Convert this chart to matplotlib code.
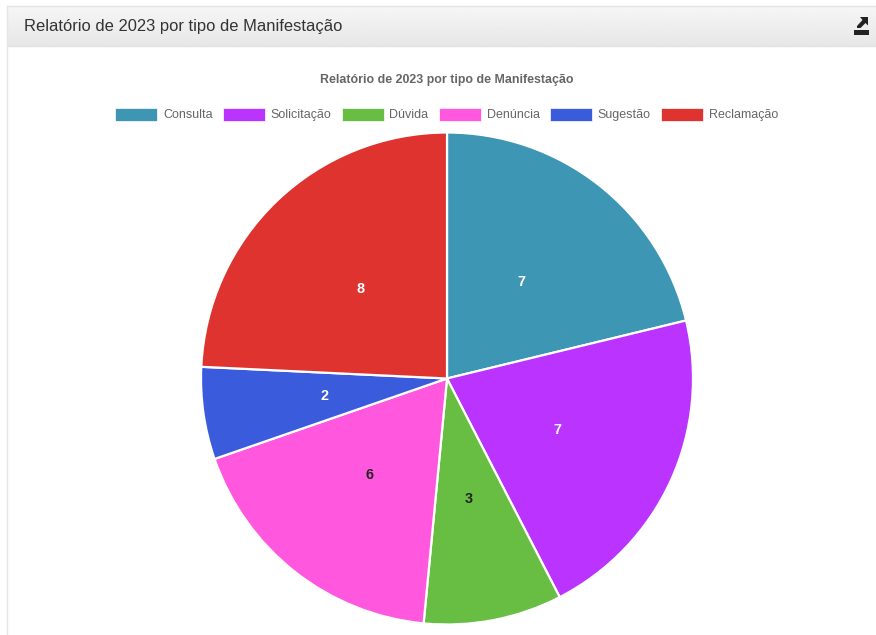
import numpy as np
import matplotlib
matplotlib.use("Agg")
import matplotlib.pyplot as plt
from matplotlib.patches import Rectangle, Polygon

W, H = 876, 635
categories = ["Consulta", "Solicitação", "Dúvida", "Denúncia", "Sugestão", "Reclamação"]
values = [7, 7, 3, 6, 2, 8]
colors = ["#3D96B4", "#BB33FF", "#68BE42", "#FF57DD", "#3A5CDC", "#DF3330"]
label_colors = ["white", "white", "#222222", "#222222", "white", "white"]
title = "Relatório de 2023 por tipo de Manifestação"

plt.rcParams["font.family"] = ["Liberation Sans", "DejaVu Sans"]
fig = plt.figure(figsize=(W / 100, H / 100), dpi=100, facecolor="white")

# Page layer in pixel coordinates, origin at top left
bg = fig.add_axes([0, 0, 1, 1])
bg.set_xlim(0, W)
bg.set_ylim(H, 0)
bg.axis("off")

# Panel header with a vertical gradient and thin borders
gradient = np.linspace(0.965, 0.905, 64).reshape(-1, 1)
bg.imshow(gradient, extent=(7, W, 46, 6.5), cmap="gray", vmin=0, vmax=1,
          aspect="auto", zorder=1)
bg.set_xlim(0, W)
bg.set_ylim(H, 0)
bg.plot([7, W], [6, 6], color="#E4E4E4", lw=1, zorder=2)
bg.plot([7, W], [46, 46], color="#E2E2E2", lw=1, zorder=2)
bg.plot([7, 7], [6, H], color="#E6E6E6", lw=1, zorder=2)
bg.text(24, 26.5, title, fontsize=11.85, color="#333333", va="center", ha="left", zorder=3)

# Export icon in the header: tray with an arrow leaving it
bg.add_patch(Rectangle((853.5, 29.5), 15.5, 5, color="#222222", lw=0, zorder=3))
bg.add_patch(Polygon([[860, 17], [868, 17], [868, 25.5], [865.5, 23], [860.5, 28],
                      [857, 28], [857, 26], [862.5, 20]], color="#222222", lw=0, zorder=3))

# Chart title
bg.text(447, 79.5, title, fontsize=8.93, fontweight="bold", color="#666666",
        ha="center", va="center", zorder=3)

# Legend row
box_left = [115, 222.5, 341.5, 438.5, 549.5, 661]
text_left = [163, 270.5, 389, 487, 597.5, 709]
for name, colour, bx, tx in zip(categories, colors, box_left, text_left):
    bg.add_patch(Rectangle((bx, 108), 42, 13, facecolor=colour, edgecolor="white",
                           lw=0.5, zorder=3))
    bg.text(tx, 115, name, fontsize=9.02, color="#666666", ha="left", va="center", zorder=3)

# Pie: centred at (447, 378.5) with a 246 px radius
cx, cy, r = 447, 378.5, 246
ax = fig.add_axes([(cx - r) / W, 1 - (cy + r) / H, 2 * r / W, 2 * r / H])
wedges, _, autotexts = ax.pie(
    values, colors=colors, startangle=90, counterclock=False, radius=1,
    wedgeprops=dict(edgecolor="white", linewidth=1.6),
    autopct=lambda p: f"{p * sum(values) / 100:.0f}", pctdistance=0.5,
    textprops=dict(fontsize=10.4, fontweight="bold"),
)
# Value labels sit slightly left of the wedge midpoint
for t, c in zip(autotexts, label_colors):
    t.set_color(c)
    x, y = t.get_position()
    t.set_position((x - 1.2 / r, y))
ax.set_xlim(-1, 1)
ax.set_ylim(-1, 1)
ax.set_aspect("equal")

fig.savefig("out.png", dpi=100, facecolor="white")
